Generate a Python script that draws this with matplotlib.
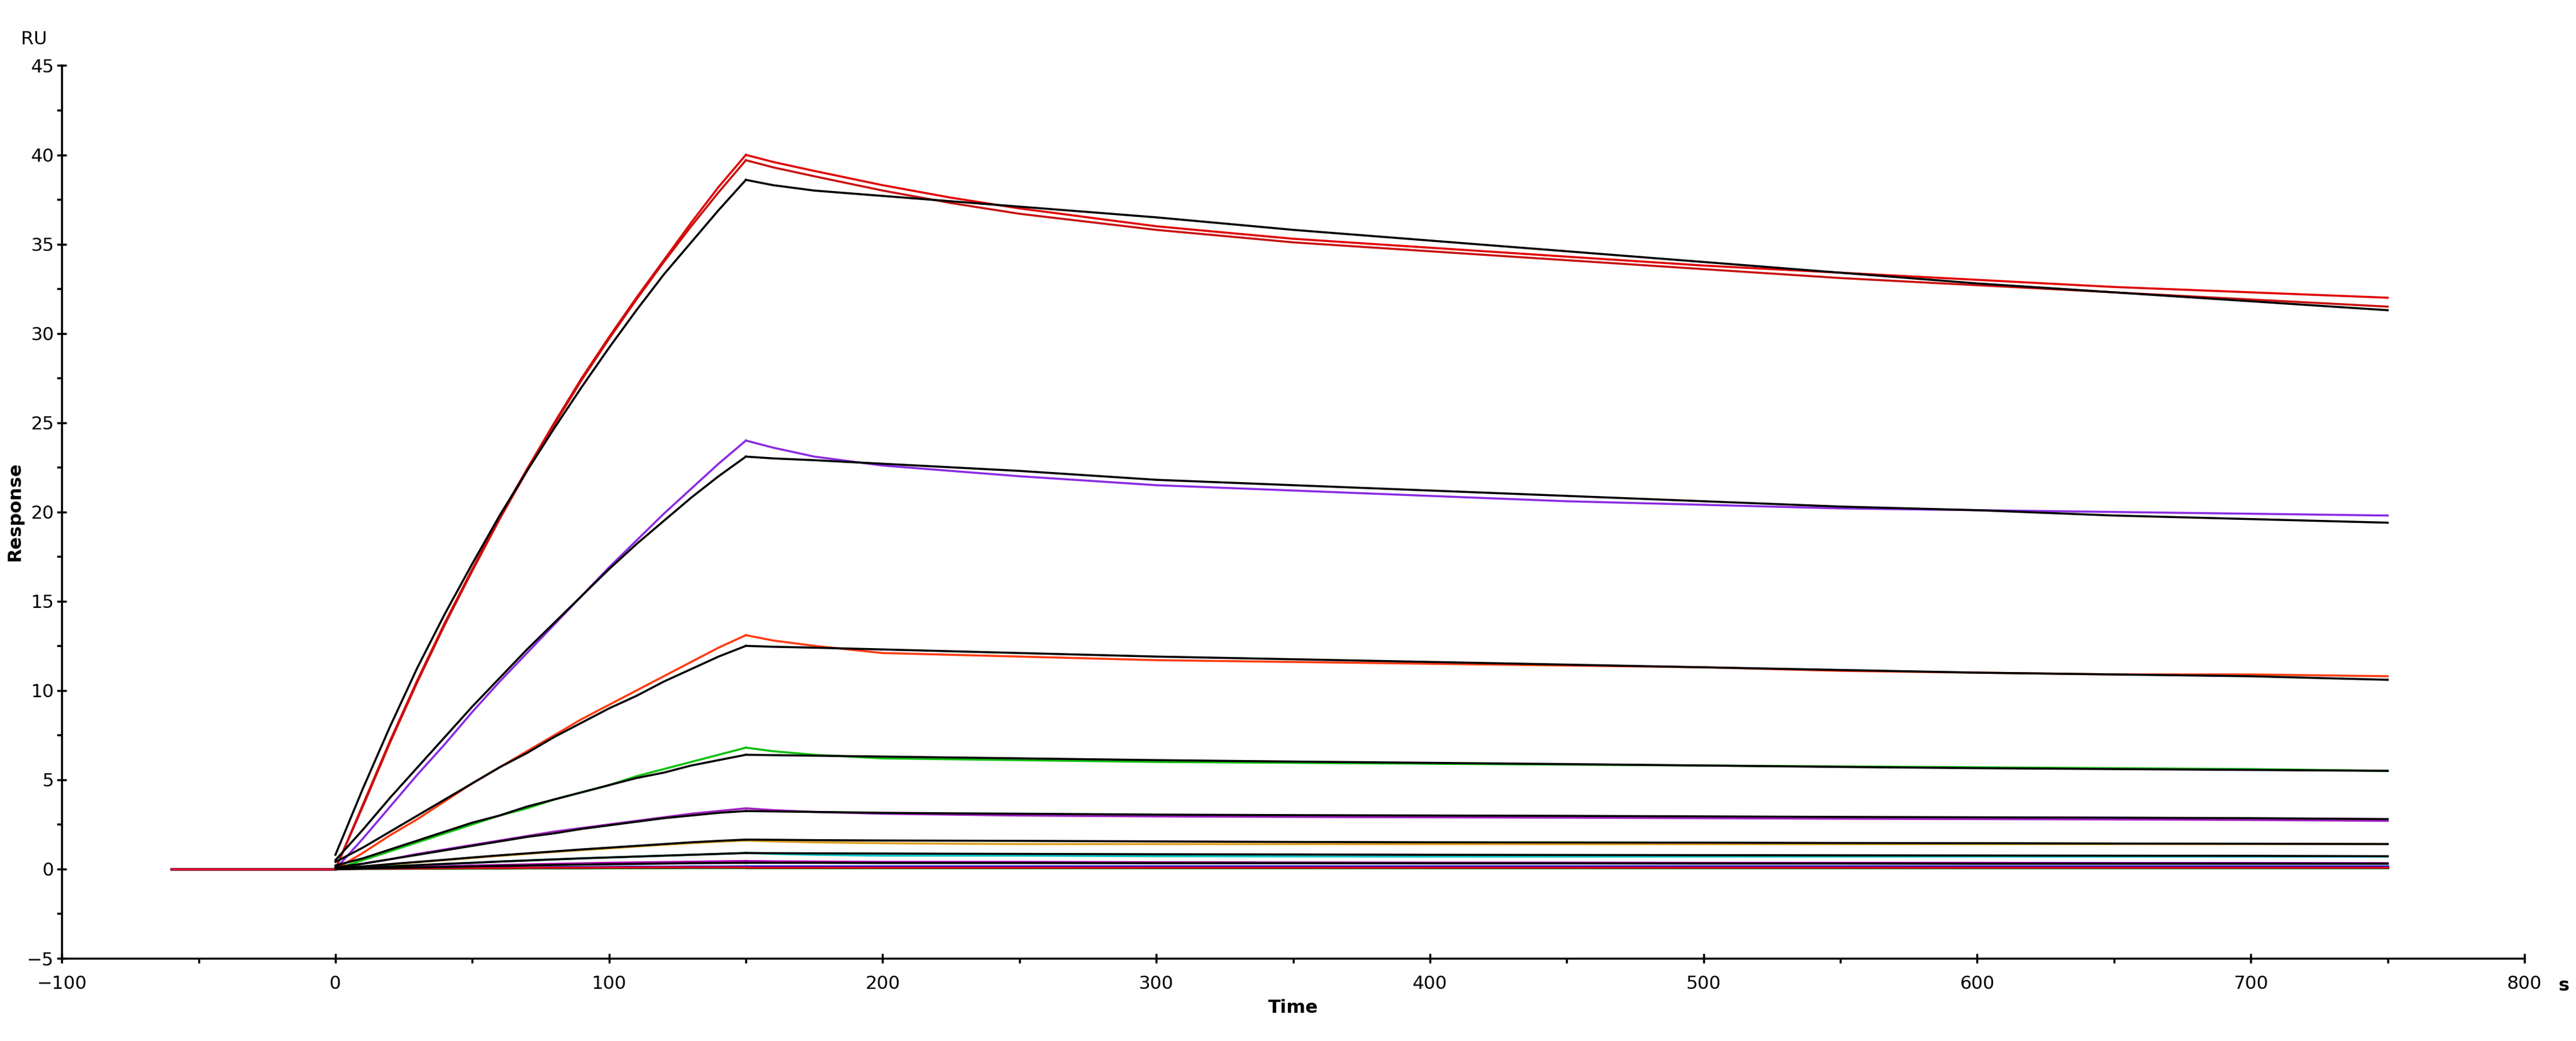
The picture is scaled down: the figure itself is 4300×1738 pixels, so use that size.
import matplotlib
matplotlib.use("Agg")
import matplotlib.pyplot as plt
from matplotlib.ticker import MultipleLocator

# time points (s)
t_base = [-60, -30, -5, 0]
t_assoc = [0, 10, 20, 30, 40, 50, 60, 70, 80, 90, 100, 110, 120, 130, 140, 150]
t_diss = [150, 160, 175, 200, 225, 250, 300, 350, 400, 450, 500, 550, 600, 650, 700, 750]

colors = ["#e00000", "#c81010", "#8a2be2", "#ff3a10", "#10c010", "#a020c0",
          "#e0a020", "#10c8c8", "#b000b0", "#0000e0", "#006000", "#e00020"]
assoc = [
    [0, 3.6, 7.2, 10.6, 13.8, 16.8, 19.7, 22.4, 25.0, 27.5, 29.8, 32.0, 34.1, 36.2, 38.2, 40.0],
    [0, 3.5, 7.1, 10.5, 13.7, 16.7, 19.6, 22.3, 24.9, 27.4, 29.7, 31.9, 34.0, 36.0, 37.9, 39.7],
    [0, 1.7, 3.5, 5.3, 7.0, 8.8, 10.5, 12.1, 13.7, 15.3, 16.9, 18.4, 19.9, 21.3, 22.7, 24.0],
    [0, 0.9, 1.9, 2.8, 3.8, 4.8, 5.7, 6.6, 7.5, 8.4, 9.2, 10.0, 10.8, 11.6, 12.4, 13.1],
    [0, 0.5, 1.0, 1.5, 2.0, 2.5, 3.0, 3.4, 3.9, 4.3, 4.7, 5.2, 5.6, 6.0, 6.4, 6.8],
    [0, 0.3, 0.55, 0.85, 1.1, 1.35, 1.6, 1.85, 2.1, 2.3, 2.5, 2.7, 2.9, 3.1, 3.25, 3.4],
    [0, 0.12, 0.25, 0.38, 0.5, 0.62, 0.74, 0.85, 0.96, 1.06, 1.16, 1.26, 1.36, 1.45, 1.53, 1.6],
    [0, 0.08, 0.15, 0.22, 0.28, 0.35, 0.42, 0.48, 0.54, 0.6, 0.65, 0.7, 0.75, 0.8, 0.85, 0.9],
    [0, 0.04, 0.08, 0.12, 0.16, 0.2, 0.23, 0.26, 0.29, 0.32, 0.35, 0.37, 0.39, 0.41, 0.43, 0.45],
    [0, 0.02, 0.03, 0.05, 0.06, 0.07, 0.08, 0.09, 0.1, 0.11, 0.12, 0.13, 0.13, 0.14, 0.14, 0.15],
    [0, 0.01, 0.01, 0.02, 0.02, 0.03, 0.03, 0.04, 0.04, 0.04, 0.05, 0.05, 0.05, 0.06, 0.06, 0.06],
    [0, 0.02, 0.03, 0.04, 0.05, 0.06, 0.06, 0.07, 0.08, 0.08, 0.09, 0.09, 0.1, 0.1, 0.1, 0.1],
]
diss = [
    [40.0, 39.6, 39.1, 38.3, 37.6, 37.0, 36.0, 35.3, 34.8, 34.3, 33.8, 33.4, 33.0, 32.6, 32.3, 32.0],
    [39.7, 39.3, 38.8, 38.0, 37.3, 36.7, 35.8, 35.1, 34.6, 34.1, 33.6, 33.1, 32.7, 32.3, 31.9, 31.5],
    [24.0, 23.6, 23.1, 22.6, 22.3, 22.0, 21.5, 21.2, 20.9, 20.6, 20.4, 20.2, 20.1, 20.0, 19.9, 19.8],
    [13.1, 12.8, 12.5, 12.1, 12.0, 11.9, 11.7, 11.6, 11.5, 11.4, 11.3, 11.1, 11.0, 10.9, 10.9, 10.8],
    [6.8, 6.6, 6.4, 6.2, 6.15, 6.1, 6.0, 5.95, 5.9, 5.85, 5.8, 5.75, 5.7, 5.65, 5.6, 5.5],
    [3.4, 3.3, 3.2, 3.1, 3.05, 3.0, 2.95, 2.92, 2.9, 2.88, 2.85, 2.82, 2.8, 2.78, 2.75, 2.7],
    [1.6, 1.55, 1.5, 1.45, 1.42, 1.4, 1.4, 1.4, 1.4, 1.4, 1.4, 1.4, 1.4, 1.4, 1.4, 1.4],
    [0.9, 0.85, 0.8, 0.75, 0.75, 0.75, 0.72, 0.71, 0.7, 0.7, 0.7, 0.7, 0.7, 0.7, 0.7, 0.7],
    [0.45, 0.43, 0.42, 0.4, 0.4, 0.4, 0.38, 0.37, 0.36, 0.36, 0.35, 0.35, 0.35, 0.34, 0.34, 0.33],
    [0.15] * 16,
    [0.06] * 16,
    [0.1] * 16,
]

# fitted (black) curves
fit_assoc = [
    [0.8, 4.5, 8.0, 11.3, 14.3, 17.1, 19.8, 22.3, 24.7, 27.0, 29.2, 31.3, 33.3, 35.1, 36.9, 38.6],
    [0.5, 2.2, 4.0, 5.7, 7.4, 9.1, 10.7, 12.3, 13.8, 15.3, 16.8, 18.2, 19.5, 20.8, 22.0, 23.1],
    [0.4, 1.2, 2.1, 3.0, 3.9, 4.8, 5.7, 6.5, 7.4, 8.2, 9.0, 9.7, 10.5, 11.2, 11.9, 12.5],
    [0.2, 0.6, 1.1, 1.6, 2.1, 2.6, 3.0, 3.5, 3.9, 4.3, 4.7, 5.1, 5.4, 5.8, 6.1, 6.4],
    [0.1, 0.3, 0.55, 0.8, 1.05, 1.3, 1.55, 1.8, 2.0, 2.25, 2.45, 2.65, 2.85, 3.0, 3.15, 3.25],
    [0.05, 0.15, 0.28, 0.4, 0.52, 0.65, 0.77, 0.88, 0.99, 1.1, 1.2, 1.3, 1.4, 1.5, 1.58, 1.65],
    [0.02, 0.08, 0.15, 0.22, 0.29, 0.35, 0.42, 0.48, 0.54, 0.6, 0.65, 0.7, 0.75, 0.8, 0.85, 0.9],
    [0.0, 0.03, 0.06, 0.09, 0.12, 0.15, 0.18, 0.2, 0.23, 0.25, 0.27, 0.29, 0.31, 0.33, 0.34, 0.35],
]
fit_diss = [
    [38.6, 38.3, 38.0, 37.7, 37.4, 37.1, 36.5, 35.8, 35.2, 34.6, 34.0, 33.4, 32.8, 32.3, 31.8, 31.3],
    [23.1, 23.0, 22.9, 22.7, 22.5, 22.3, 21.8, 21.5, 21.2, 20.9, 20.6, 20.3, 20.1, 19.8, 19.6, 19.4],
    [12.5, 12.45, 12.4, 12.3, 12.2, 12.1, 11.9, 11.75, 11.6, 11.45, 11.3, 11.15, 11.0, 10.9, 10.8, 10.6],
    [6.4, 6.38, 6.35, 6.3, 6.25, 6.2, 6.1, 6.02, 5.95, 5.88, 5.8, 5.72, 5.65, 5.6, 5.55, 5.5],
    [3.25, 3.23, 3.2, 3.15, 3.12, 3.1, 3.05, 3.02, 3.0, 2.98, 2.95, 2.92, 2.9, 2.88, 2.85, 2.8],
    [1.65, 1.64, 1.62, 1.6, 1.59, 1.58, 1.55, 1.52, 1.5, 1.49, 1.48, 1.46, 1.45, 1.43, 1.42, 1.4],
    [0.9, 0.89, 0.88, 0.87, 0.86, 0.85, 0.83, 0.82, 0.8, 0.79, 0.78, 0.77, 0.76, 0.75, 0.74, 0.72],
    [0.35, 0.35, 0.35, 0.34, 0.34, 0.34, 0.33, 0.33, 0.32, 0.32, 0.31, 0.31, 0.3, 0.3, 0.3, 0.3],
]

fig = plt.figure(figsize=(43, 17.38), dpi=100)
ax = fig.add_axes([0.024, 0.0794, 0.956, 0.8576])

for c, a, d in zip(colors, assoc, diss):
    ax.plot(t_base, [0] * len(t_base), color=c, lw=2.5)
    ax.plot(t_assoc, a, color=c, lw=2.5)
    ax.plot(t_diss, d, color=c, lw=2.5)
for a, d in zip(fit_assoc, fit_diss):
    ax.plot(t_assoc, a, color="black", lw=2.5)
    ax.plot(t_diss, d, color="black", lw=2.5)

ax.set_xlim(-100, 800)
ax.set_ylim(-5, 45)
ax.xaxis.set_major_locator(MultipleLocator(100))
ax.xaxis.set_minor_locator(MultipleLocator(50))
ax.yaxis.set_major_locator(MultipleLocator(5))
ax.yaxis.set_minor_locator(MultipleLocator(2.5))
for s in ["top", "right"]:
    ax.spines[s].set_visible(False)
for s in ["left", "bottom"]:
    ax.spines[s].set_linewidth(2.5)
ax.tick_params(which="major", length=12, width=2.5, labelsize=22, direction="inout")
ax.tick_params(which="minor", length=6, width=2.5, direction="out")
ax.tick_params(axis="x", pad=14)

ax.set_xlabel("Time", fontsize=22, fontweight="bold", labelpad=8)
ax.set_ylabel("Response", fontsize=22, fontweight="bold", labelpad=4)
fig.text(35 / 4300, 1 - 65 / 1738, "RU", fontsize=22, va="center")
fig.text(4270 / 4300, 1 - 1645 / 1738, "s", fontsize=22, fontweight="bold", va="center")

fig.savefig("out.png", dpi=100, facecolor="white")
